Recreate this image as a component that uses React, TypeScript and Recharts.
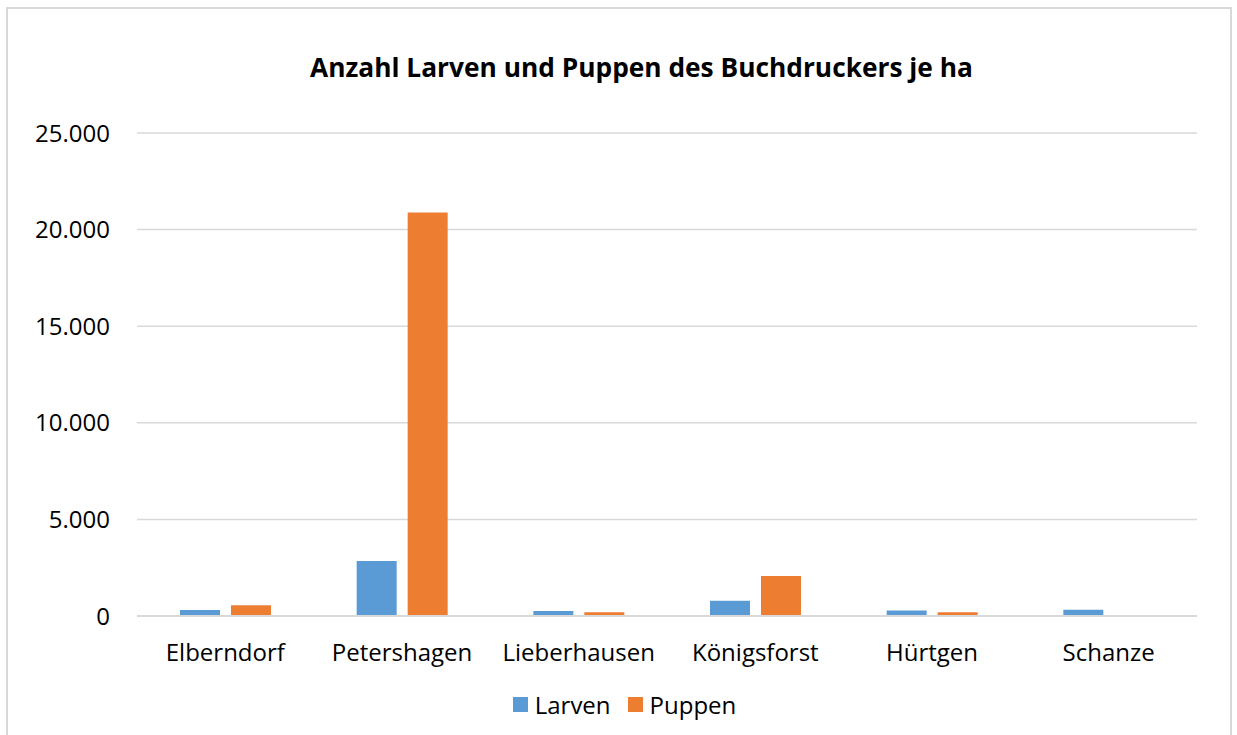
import React from 'react';
import { BarChart, Bar, XAxis, YAxis, CartesianGrid, Legend } from 'recharts';

const categories = ['Elberndorf', 'Petershagen', 'Lieberhausen', 'Königsforst', 'Hürtgen', 'Schanze'];
const larven = [310, 2850, 260, 790, 290, 320];
const puppen = [550, 20890, 200, 2070, 200, 0];
const yTicks = [0, 5000, 10000, 15000, 20000, 25000];

const chartData = categories.map((name, i) => ({ name, Larven: larven[i], Puppen: puppen[i] }));

const BLUE = '#5B9BD5';
const ORANGE = '#ED7D31';
const FONT = '"Open Sans", sans-serif';

const formatTick = (v: number) => String(v).replace(/\B(?=(\d{3})+(?!\d))/g, '.');

const renderLegend = () => (
  <div
    style={{
      display: 'flex',
      justifyContent: 'center',
      alignItems: 'center',
      height: 30,
      paddingLeft: 35,
      fontFamily: FONT,
      fontSize: 24,
      color: '#000',
    }}
  >
    {[
      { label: 'Larven', color: BLUE },
      { label: 'Puppen', color: ORANGE },
    ].map((item, i) => (
      <span key={item.label} style={{ display: 'flex', alignItems: 'center', marginLeft: i ? 17 : 0 }}>
        <span style={{ width: 15, height: 15, background: item.color, marginRight: 7 }} />
        {item.label}
      </span>
    ))}
  </div>
);

export default function App() {
  return (
    <div style={{ position: 'absolute', left: 0, top: 0, width: 1237, height: 735, background: '#fff', overflow: 'hidden' }}>
      <div
        style={{
          position: 'absolute',
          left: 6,
          top: 7,
          width: 1226,
          height: 760,
          border: '2px solid #D9D9D9',
          boxSizing: 'border-box',
        }}
      />
      <div
        style={{
          position: 'absolute',
          left: 0,
          width: 1237,
          top: 49,
          textAlign: 'center',
          fontFamily: FONT,
          fontWeight: 700,
          fontSize: 26.3,
          lineHeight: '36px',
          color: '#000',
          paddingLeft: 46,
          boxSizing: 'border-box',
        }}
      >
        Anzahl Larven und Puppen des Buchdruckers je ha
      </div>
      <div style={{ position: 'absolute', left: 0, top: 0 }}>
        <BarChart
          width={1237}
          height={735}
          data={chartData}
          margin={{ top: 133, right: 40, left: 17, bottom: 16 }}
          barSize={40}
          barGap={11}
        >
          <CartesianGrid vertical={false} stroke="#D9D9D9" strokeWidth={1.5} />
          <XAxis
            dataKey="name"
            height={73}
            tickLine={false}
            axisLine={{ stroke: '#D9D9D9', strokeWidth: 2 }}
            tickMargin={22}
            tick={{ fill: '#000', fontSize: 24, fontFamily: FONT }}
            interval={0}
          />
          <YAxis
            width={120}
            domain={[0, 25000]}
            ticks={yTicks}
            tickFormatter={formatTick}
            axisLine={false}
            tickLine={false}
            tickMargin={21}
            tick={{ fill: '#000', fontSize: 24, fontFamily: FONT }}
          />
          <Legend verticalAlign="bottom" content={renderLegend} />
          <Bar dataKey="Larven" fill={BLUE} isAnimationActive={false} />
          <Bar dataKey="Puppen" fill={ORANGE} isAnimationActive={false} />
        </BarChart>
      </div>
    </div>
  );
}
